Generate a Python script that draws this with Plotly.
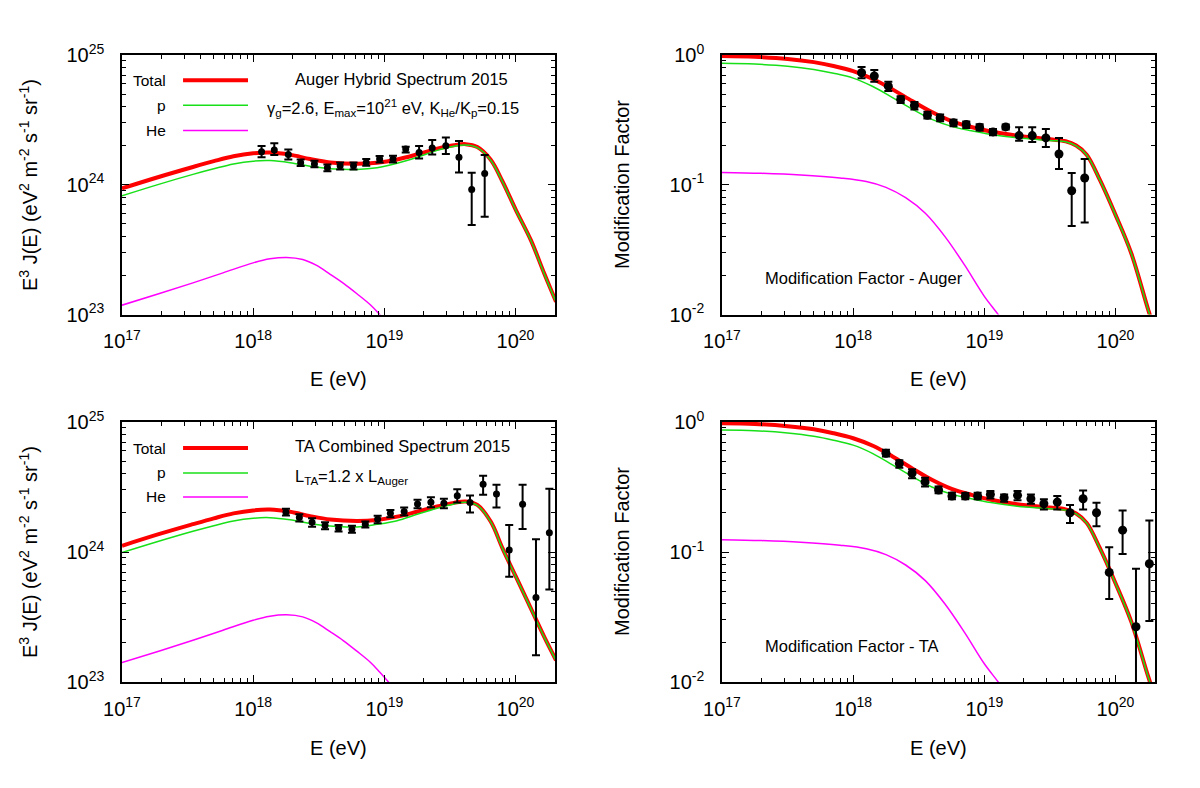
import numpy as np
import plotly.graph_objects as go

FONT = "Liberation Sans, Arial, Helvetica, sans-serif"
RED, GREEN, MAG = "#ff0000", "#18e018", "#ff00ff"

# ---------------- data (log10 values) ----------------
# model curves, energy grid (log10 E/eV)
spec_logE = [17.00, 17.286, 17.541, 17.70, 17.85, 18.00, 18.128, 18.281, 18.434, 18.587, 18.791, 18.944,
             19.097, 19.250, 19.403, 19.531, 19.620, 19.709, 19.811, 19.901, 20.003, 20.117, 20.219, 20.309]
# Auger spectrum panel: log10(E^3 J)
auger_total = [23.972, 24.062, 24.137, 24.182, 24.220, 24.243, 24.249, 24.232, 24.198, 24.172, 24.161, 24.170,
               24.195, 24.234, 24.278, 24.305, 24.313, 24.290, 24.192, 24.025, 23.805, 23.573, 23.316, 23.098]
auger_p = [23.915, 24.005, 24.080, 24.123, 24.160, 24.182, 24.186, 24.170, 24.142, 24.123, 24.118, 24.131,
           24.165, 24.212, 24.265, 24.297, 24.307, 24.286, 24.189, 24.022, 23.802, 23.570, 23.313, 23.095]
he_logE = [17.00, 17.286, 17.541, 17.770, 18.000, 18.128, 18.255, 18.378, 18.480, 18.587, 18.689,
           18.791, 18.893, 18.964, 19.05, 19.12]
auger_he = [23.072, 23.162, 23.244, 23.321, 23.398, 23.429, 23.440, 23.424, 23.380, 23.310, 23.240,
            23.160, 23.075, 23.000, 22.900, 22.800]
# TA spectrum panel
ta_total = [24.048, 24.139, 24.214, 24.259, 24.297, 24.320, 24.326, 24.309, 24.276, 24.250, 24.239, 24.247,
            24.272, 24.310, 24.350, 24.378, 24.389, 24.362, 24.234, 24.028, 23.810, 23.566, 23.347, 23.167]
ta_p = [23.995, 24.084, 24.159, 24.202, 24.239, 24.260, 24.264, 24.248, 24.220, 24.200, 24.193, 24.213,
        24.241, 24.290, 24.337, 24.370, 24.383, 24.358, 24.231, 24.026, 23.808, 23.564, 23.345, 23.165]
ta_he = [23.149, 23.239, 23.321, 23.398, 23.475, 23.506, 23.517, 23.501, 23.457, 23.387, 23.317,
         23.237, 23.152, 23.077, 22.977, 22.877]

# modification factor curves: log10(eta)
mf_logE = [17.00, 17.25, 17.50, 17.70, 17.85, 18.00, 18.15, 18.30, 18.45, 18.60, 18.75, 18.90, 19.05,
           19.25, 19.50, 19.62, 19.70, 19.78, 19.88, 20.00, 20.12, 20.25, 20.31]
mfa_total = [-0.008, -0.014, -0.030, -0.055, -0.085, -0.125, -0.185, -0.265, -0.355, -0.440, -0.510, -0.555,
             -0.590, -0.622, -0.650, -0.665, -0.698, -0.768, -0.961, -1.232, -1.528, -1.966, -2.150]
mfa_p = [-0.064, -0.070, -0.086, -0.111, -0.140, -0.178, -0.243, -0.328, -0.417, -0.496, -0.550, -0.584,
         -0.612, -0.638, -0.658, -0.668, -0.700, -0.770, -0.963, -1.234, -1.530, -1.968, -2.152]
mft_total = [-0.010, -0.015, -0.032, -0.056, -0.086, -0.125, -0.183, -0.265, -0.357, -0.445, -0.515, -0.560,
             -0.598, -0.632, -0.658, -0.672, -0.704, -0.776, -0.969, -1.240, -1.536, -1.961, -2.140]
mft_p = [-0.062, -0.067, -0.085, -0.110, -0.140, -0.178, -0.243, -0.330, -0.420, -0.500, -0.555, -0.590,
         -0.620, -0.648, -0.668, -0.678, -0.706, -0.778, -0.971, -1.242, -1.538, -1.963, -2.142]
mf_he_logE = [17.00, 17.30, 17.60, 17.90, 18.10, 18.25, 18.40, 18.55, 18.70, 18.85, 19.00, 19.12, 19.20]
mfa_he = [-0.905, -0.912, -0.925, -0.948, -0.975, -1.020, -1.100, -1.220, -1.400, -1.620, -1.860, -2.020, -2.150]
mft_he = [-0.905, -0.912, -0.925, -0.948, -0.975, -1.020, -1.100, -1.220, -1.400, -1.620, -1.860, -2.020, -2.150]

# Auger hybrid spectrum 2015 data
auger_logE = [18.064, 18.161, 18.268, 18.362, 18.467, 18.566, 18.663, 18.765, 18.862, 18.964, 19.066,
              19.163, 19.265, 19.365, 19.469, 19.569, 19.666, 19.765]
auger_flux = [24.254, 24.267, 24.234, 24.170, 24.159, 24.131, 24.147, 24.147, 24.172, 24.198, 24.198,
              24.275, 24.249, 24.283, 24.301, 24.211, 23.964, 24.087]
auger_flux_hi = [24.298, 24.319, 24.272, 24.195, 24.185, 24.157, 24.172, 24.172, 24.198, 24.221, 24.224,
                 24.293, 24.298, 24.344, 24.365, 24.337, 24.093, 24.229]
auger_flux_lo = [24.211, 24.229, 24.195, 24.144, 24.134, 24.105, 24.118, 24.118, 24.147, 24.172, 24.172,
                 24.249, 24.203, 24.234, 24.237, 24.095, 23.689, 23.753]
auger_mf = [-0.137, -0.162, -0.240, -0.343, -0.389, -0.464, -0.485, -0.523, -0.536, -0.557, -0.593,
            -0.554, -0.621, -0.621, -0.639, -0.763, -1.046, -0.948]
auger_mf_hi = [-0.093, -0.116, -0.206, -0.317, -0.363, -0.438, -0.459, -0.500, -0.513, -0.534, -0.570,
               -0.536, -0.557, -0.557, -0.570, -0.639, -0.910, -0.802]
auger_mf_lo = [-0.180, -0.206, -0.278, -0.369, -0.420, -0.490, -0.510, -0.549, -0.562, -0.582, -0.619,
               -0.575, -0.660, -0.670, -0.709, -0.879, -1.317, -1.291]

# TA combined spectrum 2015 data
ta_logE = [18.250, 18.352, 18.449, 18.548, 18.651, 18.753, 18.855, 18.949, 19.046, 19.151, 19.253,
           19.355, 19.454, 19.556, 19.653, 19.753, 19.855, 19.952, 20.054, 20.156, 20.258]
ta_flux = [24.306, 24.265, 24.229, 24.203, 24.183, 24.175, 24.213, 24.252, 24.298, 24.311, 24.370,
           24.383, 24.375, 24.432, 24.380, 24.522, 24.447, 24.015, 24.368, 23.650, 24.149]
ta_flux_hi = [24.332, 24.290, 24.260, 24.229, 24.208, 24.201, 24.234, 24.278, 24.324, 24.342, 24.401,
              24.422, 24.409, 24.483, 24.434, 24.586, 24.517, 24.208, 24.517, 24.098, 24.486]
ta_flux_lo = [24.280, 24.234, 24.195, 24.175, 24.157, 24.149, 24.188, 24.221, 24.267, 24.280, 24.337,
              24.344, 24.337, 24.380, 24.303, 24.440, 24.342, 23.810, 24.177, 23.206, 23.712]
ta_mf = [-0.240, -0.320, -0.394, -0.461, -0.523, -0.570, -0.570, -0.570, -0.557, -0.582, -0.564,
         -0.590, -0.629, -0.616, -0.698, -0.590, -0.698, -1.157, -0.832, -1.575, -1.090]
ta_mf_hi = [-0.214, -0.294, -0.363, -0.428, -0.497, -0.544, -0.546, -0.544, -0.531, -0.557, -0.531,
            -0.557, -0.595, -0.570, -0.639, -0.526, -0.621, -0.964, -0.680, -1.129, -0.758]
ta_mf_lo = [-0.265, -0.351, -0.433, -0.497, -0.549, -0.595, -0.595, -0.595, -0.588, -0.613, -0.601,
            -0.629, -0.673, -0.673, -0.776, -0.673, -0.802, -1.361, -1.015, -2.300, -1.531]

# tick labels
x_tickvals = [1e17, 1e18, 1e19, 1e20]
x_ticktext = ["10<sup>17</sup>", "10<sup>18</sup>", "10<sup>19</sup>", "10<sup>20</sup>"]
spec_tickvals = [1e23, 1e24, 1e25]
spec_ticktext = ["10<sup>23</sup>", "10<sup>24</sup>", "10<sup>25</sup>"]
mf_tickvals = [1e-2, 1e-1, 1e0]
mf_ticktext = ["10<sup>-2</sup>", "10<sup>-1</sup>", "10<sup>0</sup>"]

# ---------------- figure ----------------
fig = go.Figure()


def p10(a):
    return 10 ** np.asarray(a, dtype=float)


def add_curve(xa, ya, logE, logY, color, width):
    fig.add_trace(go.Scatter(x=p10(logE), y=p10(logY), xaxis=xa, yaxis=ya, mode="lines",
                             line=dict(color=color, width=width, shape="spline", smoothing=1.0),
                             showlegend=False, hoverinfo="skip"))


def add_points(xa, ya, logE, logY, logHi, logLo, size):
    y = p10(logY)
    fig.add_trace(go.Scatter(x=p10(logE), y=y, xaxis=xa, yaxis=ya, mode="markers",
                             marker=dict(color="black", size=size),
                             error_y=dict(type="data", symmetric=False, array=p10(logHi) - y,
                                          arrayminus=y - p10(logLo), color="black", thickness=2, width=4),
                             showlegend=False, hoverinfo="skip"))


# panel 1: Auger spectrum (x, y)
add_curve("x", "y", spec_logE, auger_total, RED, 4)
add_curve("x", "y", spec_logE, auger_p, GREEN, 1.5)
add_curve("x", "y", he_logE, auger_he, MAG, 1.5)
add_points("x", "y", auger_logE, auger_flux, auger_flux_hi, auger_flux_lo, 7)
# panel 2: Auger modification factor (x2, y2)
add_curve("x2", "y2", mf_logE, mfa_total, RED, 4)
add_curve("x2", "y2", mf_logE, mfa_p, GREEN, 1.5)
add_curve("x2", "y2", mf_he_logE, mfa_he, MAG, 1.5)
add_points("x2", "y2", auger_logE, auger_mf, auger_mf_hi, auger_mf_lo, 9)
# panel 3: TA spectrum (x3, y3)
add_curve("x3", "y3", spec_logE, ta_total, RED, 4)
add_curve("x3", "y3", spec_logE, ta_p, GREEN, 1.5)
add_curve("x3", "y3", he_logE, ta_he, MAG, 1.5)
add_points("x3", "y3", ta_logE, ta_flux, ta_flux_hi, ta_flux_lo, 7)
# panel 4: TA modification factor (x4, y4)
add_curve("x4", "y4", mf_logE, mft_total, RED, 4)
add_curve("x4", "y4", mf_logE, mft_p, GREEN, 1.5)
add_curve("x4", "y4", mf_he_logE, mft_he, MAG, 1.5)
add_points("x4", "y4", ta_logE, ta_mf, ta_mf_hi, ta_mf_lo, 9)

W, H = 1200, 788
XL = [122 / W, 555 / W]
XR = [722 / W, 1155 / W]
YT = [1 - 314.5 / H, 1 - 55 / H]
YB = [1 - 682 / H, 1 - 422 / H]


def minor_vals(d0, d1, top=None):
    vals = []
    for d in range(d0, d1):
        for m in range(2, 10):
            v = m * 10.0 ** d
            if top is None or v <= top:
                vals.append(v)
    return vals


x_minor = minor_vals(17, 21, 2e20)
spec_minor = minor_vals(23, 25)
mf_minor = minor_vals(-2, 0)


def axis(domain, rng, tv, tt, minor, anchor, standoff):
    return dict(type="log", domain=domain, range=rng, anchor=anchor, automargin=False,
                showline=True, linecolor="black", linewidth=1.5, mirror="allticks",
                ticks="inside", ticklen=7, tickwidth=1, tickcolor="black",
                showgrid=False, zeroline=False, tickmode="array", tickvals=tv, ticktext=tt,
                tickfont=dict(family=FONT, size=20, color="black"), ticklabelstandoff=standoff,
                minor=dict(ticks="inside", ticklen=4, tickwidth=1, tickcolor="black",
                           tickmode="array", tickvals=minor, showgrid=False))


xr = [17, np.log10(2e20)]
fig.update_layout(
    width=W, height=H, autosize=False,
    margin=dict(l=0, r=0, t=0, b=0, pad=0, autoexpand=False),
    paper_bgcolor="white", plot_bgcolor="white", showlegend=False,
    font=dict(family=FONT, color="black"),
    xaxis=axis(XL, xr, x_tickvals, x_ticktext, x_minor, "y", 8),
    yaxis=axis(YT, [23, 25], spec_tickvals, spec_ticktext, spec_minor, "x", 12),
    xaxis2=axis(XR, xr, x_tickvals, x_ticktext, x_minor, "y2", 8),
    yaxis2=axis(YT, [-2, 0], mf_tickvals, mf_ticktext, mf_minor, "x2", 12),
    xaxis3=axis(XL, xr, x_tickvals, x_ticktext, x_minor, "y3", 8),
    yaxis3=axis(YB, [23, 25], spec_tickvals, spec_ticktext, spec_minor, "x3", 12),
    xaxis4=axis(XR, xr, x_tickvals, x_ticktext, x_minor, "y4", 8),
    yaxis4=axis(YB, [-2, 0], mf_tickvals, mf_ticktext, mf_minor, "x4", 12),
)

ann = []
shapes = []
ytitle = "E<sup>3</sup> J(E) (eV<sup>2</sup> m<sup>-2</sup> s<sup>-1</sup> sr<sup>-1</sup>)"


def text(t, xref, yref, x, y, size, xanchor="center", yanchor="middle", angle=0):
    ann.append(dict(text=t, xref=xref, yref=yref, x=x, y=y, xanchor=xanchor, yanchor=yanchor,
                    textangle=angle, showarrow=False, font=dict(size=size, family=FONT, color="black")))


# axis titles
for yc in (1 - 185 / H, 1 - 552 / H):
    text(ytitle, "paper", "paper", 28 / W, yc, 20, angle=-90)
    text("Modification Factor", "paper", "paper", 622 / W, yc, 20, angle=-90)
for yc in (1 - 379 / H, 1 - 748 / H):
    for xc in (338.5 / W, 938.5 / W):
        text("E (eV)", "paper", "paper", xc, yc, 20)

# legends drawn in the two left panels
leg_names = ["Total", "p", "He"]
leg_cols = [RED, GREEN, MAG]
leg_w = [4, 1.5, 1.5]
for xa, ya, ys in (("x", "y", [0.903, 0.806, 0.709]), ("x3", "y3", [0.900, 0.804, 0.712])):
    for name, col, lw, yy in zip(leg_names, leg_cols, leg_w, ys):
        text(name, f"{xa} domain", f"{ya} domain", 0.106, yy, 15.5, xanchor="right")
        shapes.append(dict(type="line", xref=f"{xa} domain", yref=f"{ya} domain",
                           x0=0.141, x1=0.291, y0=yy, y1=yy, line=dict(color=col, width=lw)))

# panel labels
text("Auger Hybrid Spectrum 2015", "x domain", "y domain", 0.395, 0.908, 16.5, xanchor="left")
text("γ<sub>g</sub>=2.6, E<sub>max</sub>=10<sup>21</sup> eV, K<sub>He</sub>/K<sub>p</sub>=0.15",
     "x domain", "y domain", 0.330, 0.796, 16.5, xanchor="left")
text("TA Combined Spectrum 2015", "x3 domain", "y3 domain", 0.395, 0.908, 16.5, xanchor="left")
text("L<sub>TA</sub>=1.2 x L<sub>Auger</sub>", "x3 domain", "y3 domain", 0.395, 0.790, 16.5, xanchor="left")
text("Modification Factor - Auger", "x2 domain", "y2 domain", 0.095, 0.141, 16.5, xanchor="left")
text("Modification Factor - TA", "x4 domain", "y4 domain", 0.095, 0.138, 16.5, xanchor="left")

fig.update_layout(annotations=ann, shapes=shapes)
fig.write_html("out.html")
